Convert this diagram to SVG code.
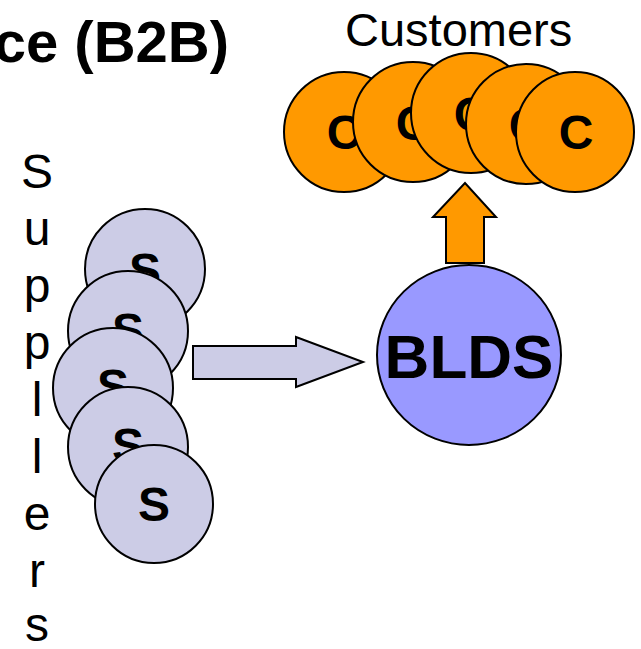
<svg xmlns="http://www.w3.org/2000/svg" width="641" height="649" viewBox="0 0 641 649">
<style>
text{font-family:"Liberation Sans",Arial,sans-serif;fill:#000}
.b{font-weight:bold}
.s{fill:#CCCCE6;stroke:#000;stroke-width:2}
.c{fill:#FF9900;stroke:#000;stroke-width:2}
.d{fill:#9999FF;stroke:#000;stroke-width:2}
.lbl{font-weight:bold;font-size:48px;text-anchor:middle}
.v{font-size:48px;text-anchor:middle}
</style>
<rect width="641" height="649" fill="#fff"/>
<text class="b" x="229" y="62" font-size="58" text-anchor="end">ce (B2B)</text>
<text x="345" y="46" font-size="47">Customers</text>
<g id="suppliers-label">
<text class="v" x="37" y="188">S</text>
<text class="v" x="37" y="245">u</text>
<text class="v" x="37" y="302">p</text>
<text class="v" x="37" y="359">p</text>
<text class="v" x="37" y="416">l</text>
<text class="v" x="37" y="473">l</text>
<text class="v" x="37" y="530">e</text>
<text class="v" x="37" y="587">r</text>
<text class="v" x="37" y="641">s</text>
</g>
<g id="connectors">
<path class="s" d="M193,346 H296 V337 L363,362 L296,387 V379 H193 Z"/>
<path class="c" d="M446,263 V217 H433 L465,183 L496,217 H484 V263 Z"/>
</g>
<g id="s1"><circle class="s" cx="145" cy="269" r="60"/><text class="lbl" x="145" y="287">S</text></g>
<g id="s2"><circle class="s" cx="128" cy="331" r="60"/><text class="lbl" x="128" y="347">S</text></g>
<g id="s3"><circle class="s" cx="113" cy="388" r="60"/><text class="lbl" x="113" y="403">S</text></g>
<g id="s4"><circle class="s" cx="128" cy="447" r="60"/><text class="lbl" x="128" y="462">S</text></g>
<g id="s5"><circle class="s" cx="154" cy="504" r="59"/><text class="lbl" x="154" y="521">S</text></g>
<g id="c1"><ellipse class="c" cx="344" cy="132" rx="60" ry="60"/><text class="lbl" x="344" y="149">C</text></g>
<g id="c2"><ellipse class="c" cx="413" cy="122" rx="60" ry="60"/><text class="lbl" x="413" y="140">C</text></g>
<g id="c3"><ellipse class="c" cx="471" cy="113" rx="60" ry="60"/><text class="lbl" x="471" y="131">C</text></g>
<g id="c4"><ellipse class="c" cx="526" cy="124" rx="60" ry="60"/><text class="lbl" x="526" y="142">C</text></g>
<g id="c5"><ellipse class="c" cx="575" cy="132" rx="59" ry="60"/><text class="lbl" x="576" y="149">C</text></g>
<g id="blds"><ellipse class="d" cx="469" cy="355" rx="92" ry="90"/><text class="b" x="469" y="378" font-size="62" text-anchor="middle">BLDS</text></g>
</svg>
